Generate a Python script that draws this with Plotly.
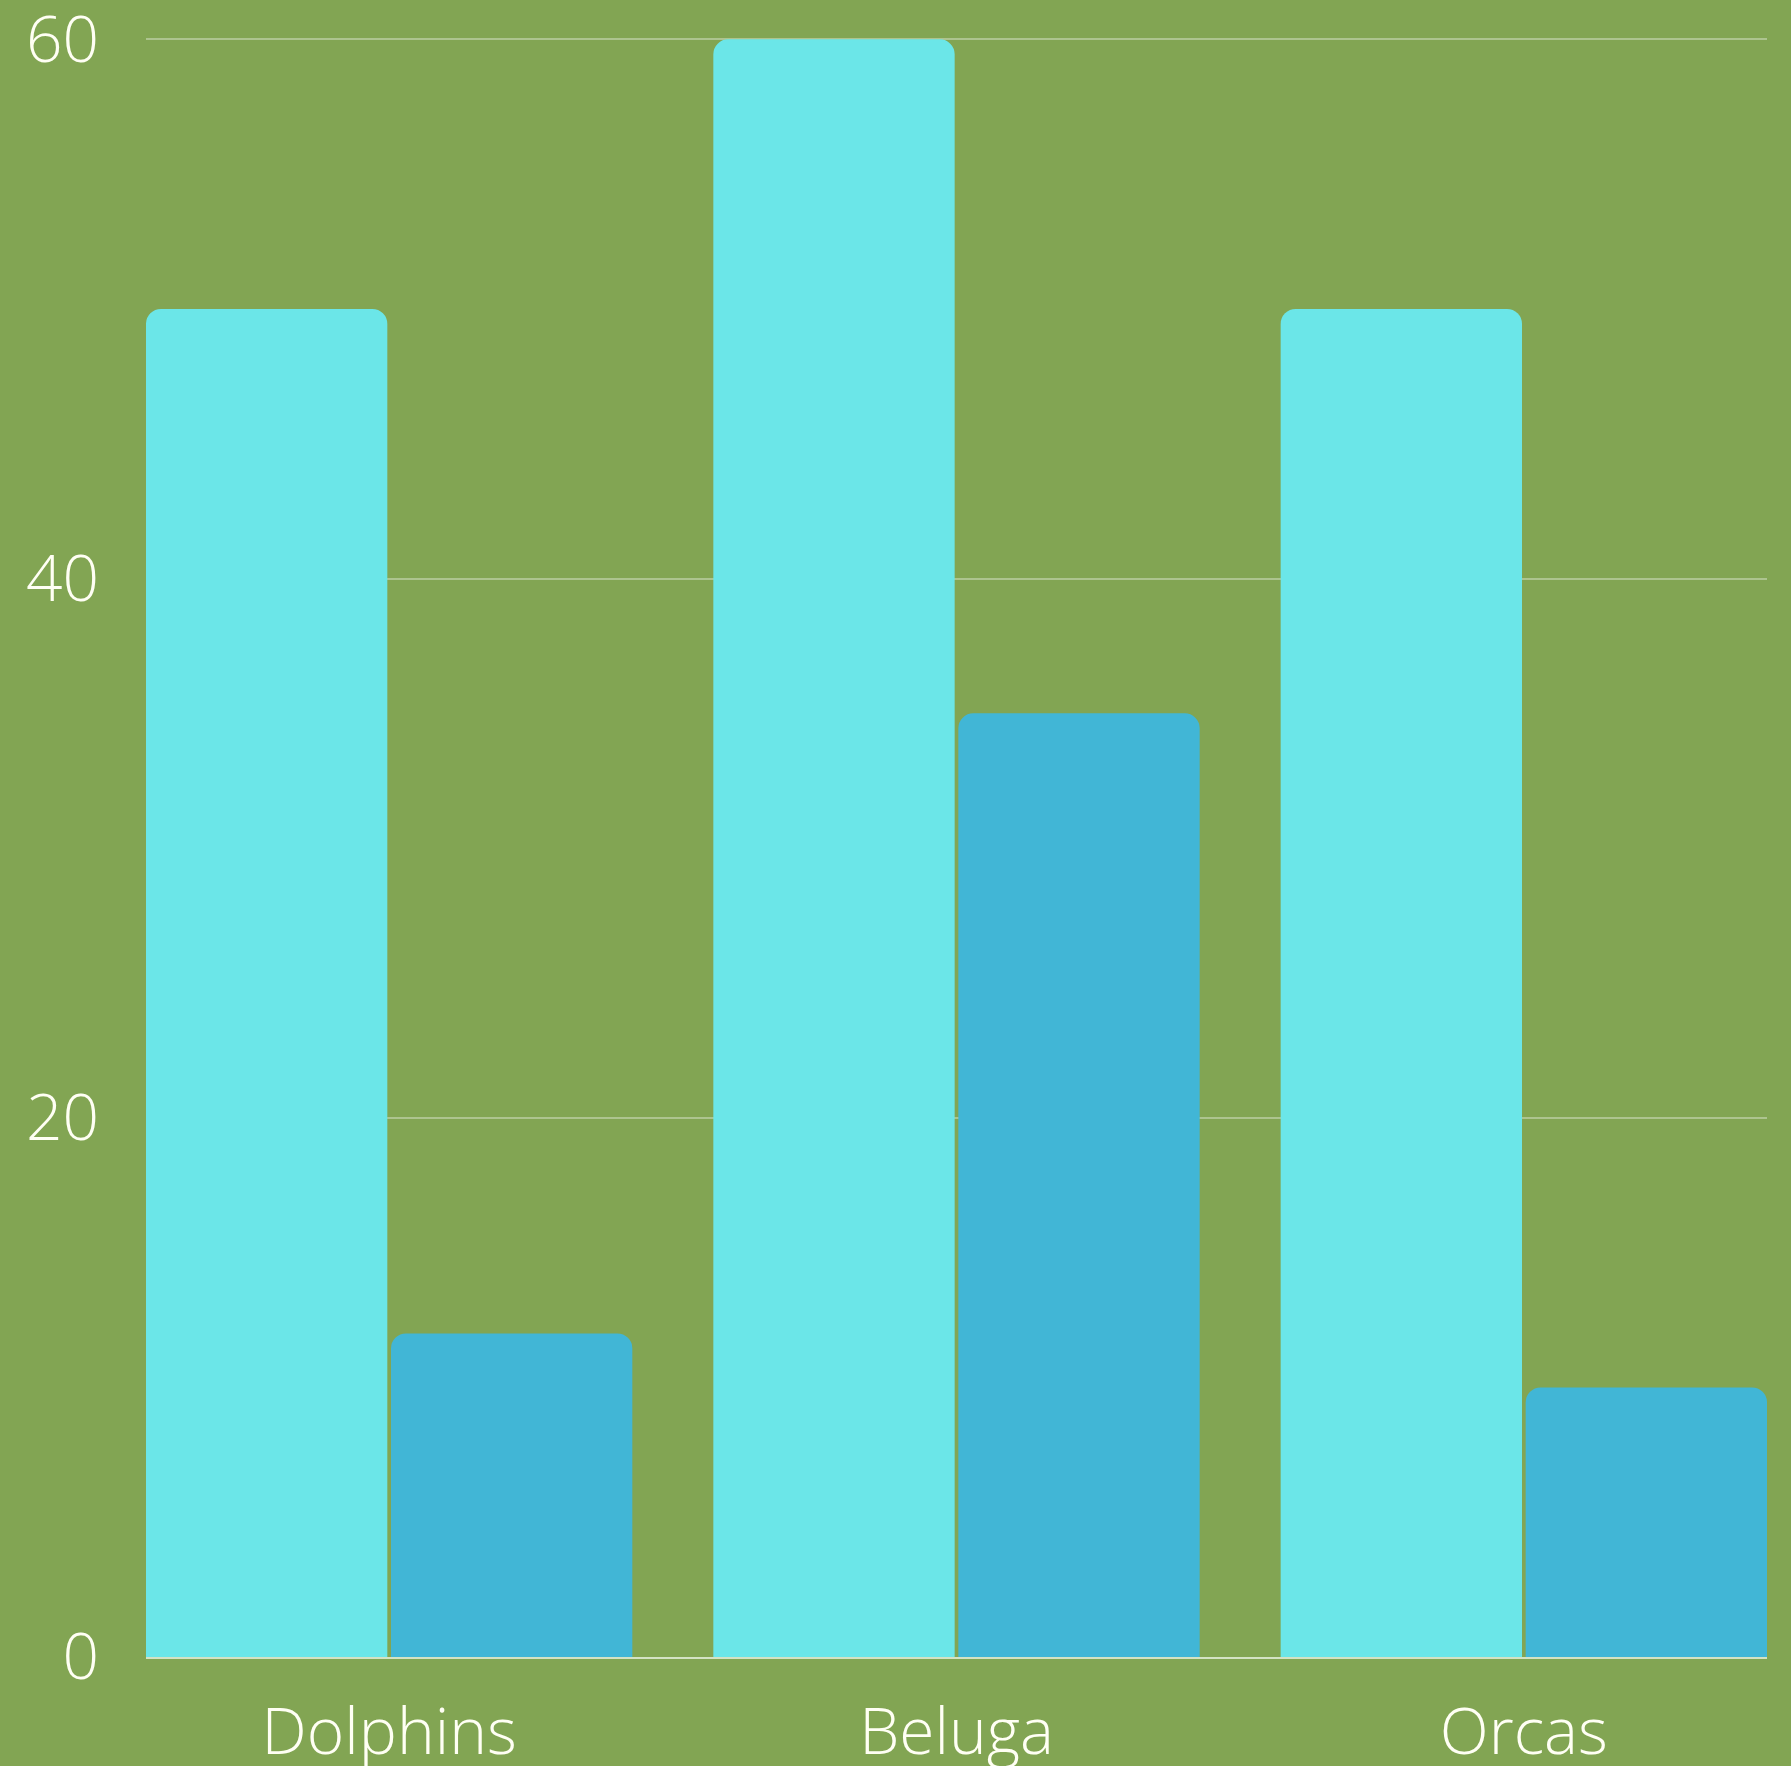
import plotly.graph_objects as go

categories = ["Dolphins", "Beluga", "Orcas"]
series_a = [50, 60, 50]
series_b = [12, 35, 10]
y_ticks = [0, 20, 40, 60]

BG = "#82A553"
FONT = dict(family="Open Sans", size=64, color="#FFFFF4", weight=300)
GAP = 0.1363
HALF = 0.4286

fig = go.Figure()
fig.add_trace(go.Bar(x=categories, y=series_a, marker=dict(color="#6BE6E8", cornerradius=15, line=dict(width=0)), showlegend=False))
fig.add_trace(go.Bar(x=categories, y=series_b, marker=dict(color="#41B6D6", cornerradius=15, line=dict(width=0)), showlegend=False))

fig.update_layout(
    width=1791, height=1766,
    paper_bgcolor=BG, plot_bgcolor=BG,
    margin=dict(l=146, r=24, t=38, b=109, autoexpand=False),
    barmode="group", bargap=GAP, bargroupgap=0.015,
    font=FONT,
    xaxis=dict(range=[-HALF, 2 + HALF], showgrid=False, showline=True, linecolor="#D4E3C4", linewidth=1.5,
               tickfont=FONT, ticks="", ticklabelstandoff=18, zeroline=False, automargin=False,
               ticklabeloverflow="allow"),
    yaxis=dict(range=[0, 60.05], tickvals=y_ticks, showgrid=True, gridcolor="rgba(255,255,255,0.35)", gridwidth=1.5,
               zeroline=False, showline=False, tickfont=FONT, ticks="", ticklabelstandoff=46, automargin=False,
               ticklabeloverflow="allow"),
)

fig.write_html("out.html", config={"displayModeBar": False},
               post_script="document.body.style.margin='0';document.body.style.overflow='hidden';")
